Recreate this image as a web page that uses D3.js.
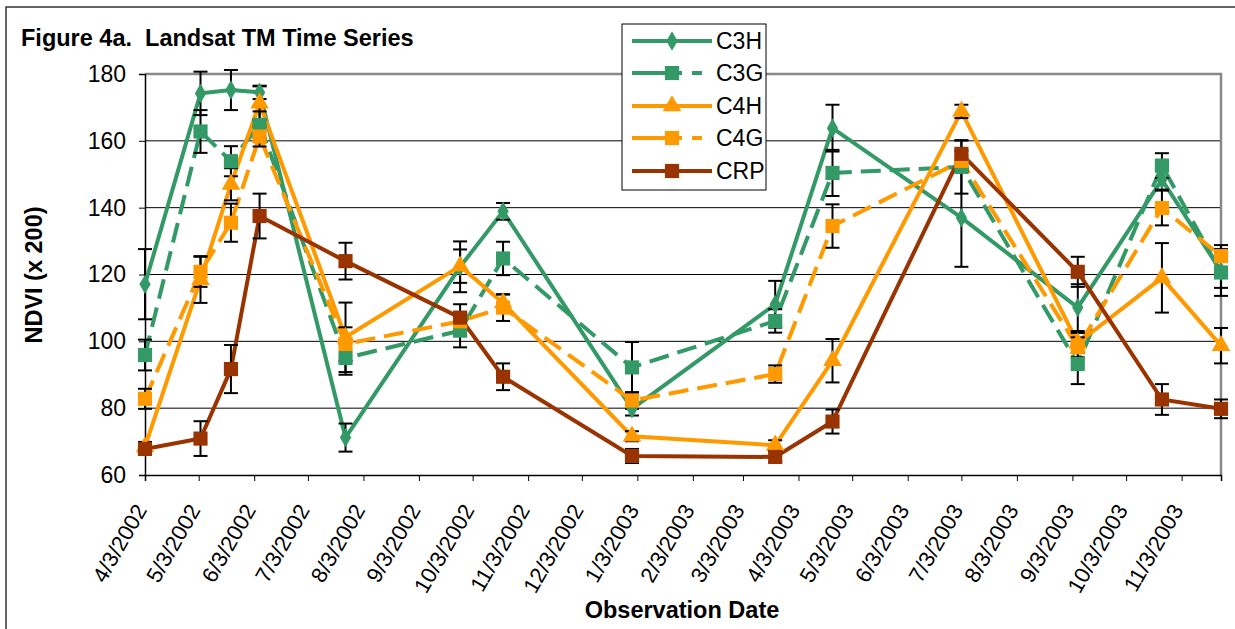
<!DOCTYPE html>
<html>
<head>
<meta charset="utf-8">
<script src="https://cdn.jsdelivr.net/npm/d3@7"></script>
<style>
  body { margin: 0; background: #fff; }
  text { font-family: "Liberation Sans", Arial, sans-serif; }
</style>
</head>
<body>
<div id="chart"></div>
<script>
// Observation dates (Landsat TM scenes).
const obsDates = ["2002-04-03", "2002-05-04", "2002-05-21", "2002-06-06", "2002-07-24",
                  "2002-09-26", "2002-10-20", "2002-12-31", "2003-03-21", "2003-04-22",
                  "2003-07-03", "2003-09-06", "2003-10-23", "2003-11-25"];

// Mean NDVI (x 200) per class.
const c3h = [117.1, 174.2, 175.2, 174.5, 71.2, 122.3, 138.9, 79.8, 111.1, 163.8, 137.0, 110.1, 148.4, 121.0];
const c3g = [95.9, 162.8, 153.9, 164.8, 95.0, 103.2, 124.8, 92.2, 106.1, 150.4, 152.2, 93.2, 152.6, 120.6];
const c4h = [68.4, 118.5, 147.0, 171.3, 101.2, 122.5, 111.5, 71.6, 68.9, 94.2, 168.8, 99.5, 119.0, 98.7];
const c4g = [82.8, 120.8, 135.5, 161.3, 99.2, 106.0, 110.1, 82.3, 90.2, 134.5, 154.0, 98.2, 139.9, 125.5];
const crp = [67.8, 70.9, 91.7, 137.5, 124.0, 107.1, 89.4, 65.7, 65.4, 76.0, 156.1, 120.8, 82.6, 79.8];

// Error bar half-widths.
const c3hErr = [10.5, 6.5, 6.0, 2.0, 4.2, 7.6, 2.5, 2.0, 7.0, 7.0, 14.7, 7.0, 3.0, 5.0];
const c3gErr = [4.6, 6.4, 4.5, 4.0, 5.0, 5.0, 5.0, 7.6, 3.5, 6.9, 8.0, 6.0, 3.7, 7.0];
const c4hErr = [1.5, 7.0, 4.8, 5.0, 10.4, 5.0, 2.5, 1.5, 1.5, 6.5, 2.0, 3.0, 10.4, 5.3];
const c4gErr = [3.0, 4.5, 5.7, 3.0, 5.0, 2.0, 4.0, 2.5, 2.6, 6.5, 3.0, 3.0, 5.2, 3.3];
const crpErr = [1.7, 5.2, 7.2, 6.7, 5.5, 4.0, 4.0, 2.1, 1.5, 3.6, 4.0, 4.5, 4.6, 2.8];

const seriesNames = ["C3H", "C3G", "C4H", "C4G", "CRP"];
const yTicks = [60, 80, 100, 120, 140, 160, 180];

const parse = d3.utcParse("%Y-%m-%d");
const dates = obsDates.map(parse);

const series = [
  { name: "C3H", values: c3h, err: c3hErr, color: "#339966", dash: null, marker: "diamond" },
  { name: "C3G", values: c3g, err: c3gErr, color: "#339966", dash: "20,9", marker: "square" },
  { name: "C4H", values: c4h, err: c4hErr, color: "#ff9900", dash: null, marker: "triangle" },
  { name: "C4G", values: c4g, err: c4gErr, color: "#ff9900", dash: "20,9", marker: "square" },
  { name: "CRP", values: crp, err: crpErr, color: "#993300", dash: null, marker: "square" }
];

const w = 1235, h = 629;
const plotLeft = 145, plotRight = 1221, plotTop = 74, plotBottom = 475;

const svg = d3.select("#chart").append("svg")
  .attr("width", w)
  .attr("height", h);

// Outer chart border.
svg.append("rect")
  .attr("x", 6).attr("y", 7)
  .attr("width", w + 10).attr("height", h + 10)
  .attr("fill", "none").attr("stroke", "#333").attr("stroke-width", 1.5);

const x = d3.scaleUtc()
  .domain([dates[0], dates[dates.length - 1]])
  .range([plotLeft, plotRight]);
const y = d3.scaleLinear()
  .domain([60, 180])
  .range([plotBottom, plotTop]);

// Gridlines.
svg.append("g").selectAll("line")
  .data(yTicks.slice(1, -1))
  .enter().append("line")
  .attr("x1", plotLeft).attr("x2", plotRight)
  .attr("y1", d => y(d)).attr("y2", d => y(d))
  .attr("stroke", "#000").attr("stroke-width", 1);

// Plot area frame (top and right are grey).
svg.append("path")
  .attr("d", `M${plotLeft},${plotTop}H${plotRight}V${plotBottom}`)
  .attr("fill", "none").attr("stroke", "#888").attr("stroke-width", 2.5);

// Y axis.
const yAxis = d3.axisLeft(y).tickValues(yTicks).tickSize(6).tickPadding(13);
const gy = svg.append("g").attr("transform", `translate(${plotLeft},0)`).call(yAxis);
gy.select(".domain").attr("stroke", "#000").attr("stroke-width", 1.5);
gy.selectAll("text").attr("font-size", 23).attr("fill", "#000");

// X axis: a tick on the 3rd of each month.
const tickDates = d3.range(20).map(i => d3.utcMonth.offset(dates[0], i));
const xAxis = d3.axisBottom(x).tickValues(tickDates).tickSize(6).tickFormat(d3.utcFormat("%-m/%-d/%Y"));
const gx = svg.append("g").attr("transform", `translate(0,${plotBottom})`).call(xAxis);
gx.select(".domain").attr("stroke", "#000").attr("stroke-width", 1.5);
gx.selectAll("text")
  .attr("font-size", 22).attr("fill", "#000")
  .attr("text-anchor", "end")
  .attr("transform", "translate(2,35) rotate(-60)")
  .attr("dy", 0).attr("y", 0).attr("x", 0);

// Titles.
svg.append("text")
  .attr("x", 21).attr("y", 46)
  .attr("font-size", 23.5).attr("font-weight", "bold")
  .attr("xml:space", "preserve")
  .text("Figure 4a.  Landsat TM Time Series");

svg.append("text")
  .attr("transform", "translate(42,275) rotate(-90)")
  .attr("text-anchor", "middle")
  .attr("font-size", 23.5).attr("font-weight", "bold")
  .text("NDVI (x 200)");

svg.append("text")
  .attr("x", 682).attr("y", 618)
  .attr("text-anchor", "middle")
  .attr("font-size", 23.5).attr("font-weight", "bold")
  .text("Observation Date");

// Marker shapes.
function markerPath(type) {
  if (type === "diamond") return d3.symbol(d3.symbolDiamond, 110)();
  if (type === "triangle") return d3.symbol(d3.symbolTriangle, 150)();
  return d3.symbol(d3.symbolSquare, 200)();
}

const line = d3.line()
  .x((d, i) => x(dates[i]))
  .y(d => y(d));

// Lines.
series.forEach(s => {
  svg.append("path")
    .datum(s.values)
    .attr("d", line)
    .attr("fill", "none")
    .attr("stroke", s.color)
    .attr("stroke-width", 4)
    .attr("stroke-dasharray", s.dash);
});

// Error bars.
series.forEach(s => {
  const g = svg.append("g").attr("stroke", "#000").attr("stroke-width", 2);
  s.values.forEach((v, i) => {
    const cx = x(dates[i]);
    const y1 = y(v + s.err[i]), y2 = y(v - s.err[i]);
    g.append("line").attr("x1", cx).attr("x2", cx).attr("y1", y1).attr("y2", y2);
    g.append("line").attr("x1", cx - 7).attr("x2", cx + 7).attr("y1", y1).attr("y2", y1);
    g.append("line").attr("x1", cx - 7).attr("x2", cx + 7).attr("y1", y2).attr("y2", y2);
  });
});

// Markers.
series.forEach(s => {
  svg.append("g").selectAll("path")
    .data(s.values)
    .enter().append("path")
    .attr("d", markerPath(s.marker))
    .attr("transform", (d, i) => `translate(${x(dates[i])},${y(d)})`)
    .attr("fill", s.color);
});

// Legend.
const legend = svg.append("g");
legend.append("rect")
  .attr("x", 622).attr("y", 24).attr("width", 144).attr("height", 166)
  .attr("fill", "#fff").attr("stroke", "#000").attr("stroke-width", 1);
const legendY = [41, 73, 106, 138, 171];
series.forEach((s, i) => {
  const ly = legendY[i];
  legend.append("line")
    .attr("x1", 632).attr("x2", 712).attr("y1", ly).attr("y2", ly)
    .attr("stroke", s.color).attr("stroke-width", 4)
    .attr("stroke-dasharray", s.dash ? "50,10,10,20" : null);
  legend.append("path")
    .attr("d", markerPath(s.marker))
    .attr("transform", `translate(672,${ly})`)
    .attr("fill", s.color);
  legend.append("text")
    .attr("x", 716).attr("y", ly).attr("dy", "0.36em")
    .attr("font-size", 23)
    .text(seriesNames[i]);
});
</script>
</body>
</html>
